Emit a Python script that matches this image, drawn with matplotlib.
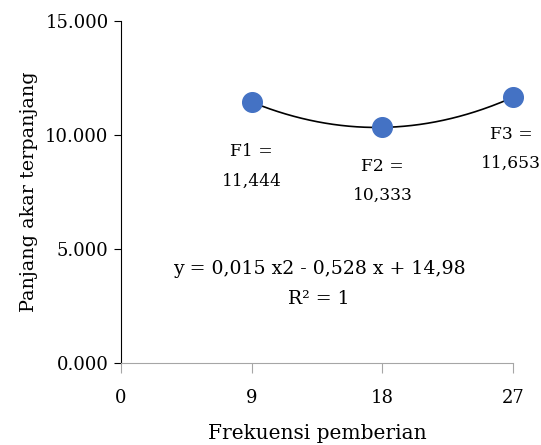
import numpy as np
import matplotlib.pyplot as plt

# data
frekuensi = [9, 18, 27]
panjang_akar = [11.444, 10.333, 11.653]
point_labels = ["F1 =\n11,444", "F2 =\n10,333", "F3 =\n11,653"]
x_ticks = [0, 9, 18, 27]
y_ticks = [0, 5, 10, 15]
y_tick_labels = ["0.000", "5.000", "10.000", "15.000"]
equation = "y = 0,015 x2 - 0,528 x + 14,98\nR² = 1"

plt.rcParams['font.family'] = ['DejaVu Serif']
plt.rcParams['font.size'] = 13

fig = plt.figure(figsize=(5.41, 4.45), dpi=100)
ax = fig.add_axes([0.2237, 0.1843, 0.7245, 0.7685])

# polynomial trendline (order 2) through the points
coef = np.polyfit(frekuensi, panjang_akar, 2)
xs = np.linspace(frekuensi[0], frekuensi[-1], 200)
ax.plot(xs, np.polyval(coef, xs), color='black', lw=1.2, zorder=2)

ax.scatter(frekuensi, panjang_akar, s=200, color='#4472C4', zorder=3, clip_on=False)

# data labels below points (offsets in points)
offsets = [(0, -46.5), (0, -38.5), (-1.5, -37)]
for x, y, lab, off in zip(frekuensi, panjang_akar, point_labels, offsets):
    ax.annotate(lab, (x, y), xytext=off, textcoords='offset points',
                ha='center', va='center', fontsize=12.3, linespacing=1.95)

ax.text(0.505, 0.231, equation, transform=ax.transAxes, ha='center', va='center',
        fontsize=13.6, linespacing=1.9)

ax.set_xlim(0, 27)
ax.set_ylim(0, 15)
ax.set_xticks(x_ticks)
ax.set_yticks(y_ticks)
ax.set_yticklabels(y_tick_labels)

ax.spines['top'].set_visible(False)
ax.spines['right'].set_visible(False)
ax.spines['left'].set_color('black')
ax.spines['bottom'].set_color('#a6a6a6')
ax.tick_params(axis='x', colors='#a6a6a6', labelcolor='black', length=7, pad=12)
ax.tick_params(axis='y', colors='black', length=5, pad=4)

ax.set_xlabel('Frekuensi pemberian', fontsize=14.5, labelpad=12)
ax.set_ylabel('Panjang akar terpanjang', fontsize=13.8, labelpad=5)

fig.savefig('out.png', dpi=100)
